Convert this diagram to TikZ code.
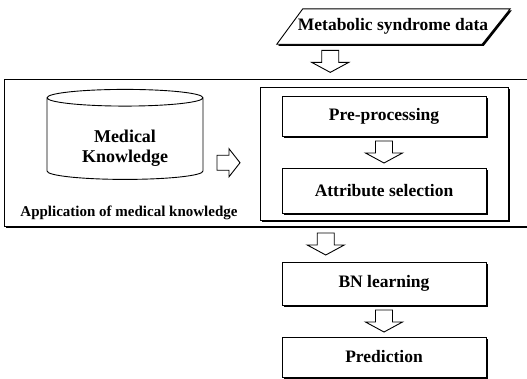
\documentclass[tikz,border=0pt]{standalone}
\usepackage{fontspec}
\setmainfont{Liberation Serif}
\usetikzlibrary{shapes.geometric,shadows,calc}

\newcommand\boxfont{\fontsize{17.5}{20}\selectfont\bfseries}

\tikzset{
  shade box/.style={drop shadow={shadow xshift=1.6pt, shadow yshift=-1.6pt, opacity=1, fill=black}},
  stepbox/.style={draw, line width=0.9pt, fill=white, shade box,
    minimum width=204pt, font=\boxfont},
  arrowline/.style={draw, line width=0.9pt, fill=white, line join=miter}
}

% hollow arrow pointing down, halfway between two nodes
\newcommand\hollowdown[2]{%
  \coordinate (mid) at ($(#1.south)!0.5!(#2.north)$);
  \path[arrowline] ($(mid)+(-8.5,-11)$) -- ($(mid)+(-8.5,1)$) -- ($(mid)+(-18.5,1)$)
    -- ($(mid)+(0,11)$) -- ($(mid)+(18.5,1)$) -- ($(mid)+(8.5,1)$)
    -- ($(mid)+(8.5,-11)$) -- cycle;}

\begin{document}
\begin{tikzpicture}[x=1pt, y=-1pt]
\useasboundingbox (0,0) rectangle (527,378);

% input data (parallelogram)
\node[minimum width=206pt, minimum height=35pt, inner sep=0pt] (meta) at (393,26.5) {};
\draw[line width=0.9pt, fill=white, shade box]
  ([xshift=-13pt]meta.south west) -- ([xshift=13pt]meta.north west)
  -- ([xshift=14pt]meta.north east) -- ([xshift=-14pt]meta.south east) -- cycle;
\node[font=\boxfont] at (meta) {Metabolic syndrome data};

% application of medical knowledge
\node[draw, line width=0.9pt, shade box, fill=white, minimum width=527pt,
  minimum height=147pt] (appbox) at (267.5,152.5) {};
\node[cylinder, draw, line width=0.9pt, shape border rotate=90, aspect=0.18,
  minimum width=156pt, minimum height=90pt, align=center,
  font=\fontsize{18}{20}\selectfont\bfseries]
  (medknow) at (125,140) {\phantom{Knowledge}\\\phantom{Knowledge}};
\node[align=center, font=\fontsize{18}{20}\selectfont\bfseries]
  (medtext) at ($(medknow.center)+(0,8)$) {Medical\\Knowledge};
\node[font=\fontsize{15}{18}\selectfont\bfseries] (applabel) at (129,213)
  {Application of medical knowledge};

% selection block
\node[stepbox, minimum width=248pt, minimum height=133pt] (selbox) at (384,153.5) {};
\node[stepbox, minimum height=40pt] (pre) at (384,116) {Pre-processing};
\node[stepbox, minimum height=45pt] (attr) at (384,190.5) {Attribute selection};

% learning and prediction
\node[stepbox, minimum height=43pt] (bn) at (384,283.5) {BN learning};
\node[stepbox, minimum height=40pt] (pred) at (384,357) {Prediction};

% hollow arrows
\hollowdown{meta}{appbox}
\hollowdown{pre}{attr}
\hollowdown{appbox}{bn}
\hollowdown{bn}{pred}
\coordinate (side) at ($(medknow.east)!0.5!(selbox.west)+(-3,16)$);
\path[arrowline] ($(side)+(-11.5,-7.5)$) -- ($(side)+(0.5,-7.5)$) -- ($(side)+(0.5,-14)$)
  -- ($(side)+(11.5,0)$) -- ($(side)+(0.5,14)$) -- ($(side)+(0.5,7.5)$)
  -- ($(side)+(-11.5,7.5)$) -- cycle;

\end{tikzpicture}
\end{document}
